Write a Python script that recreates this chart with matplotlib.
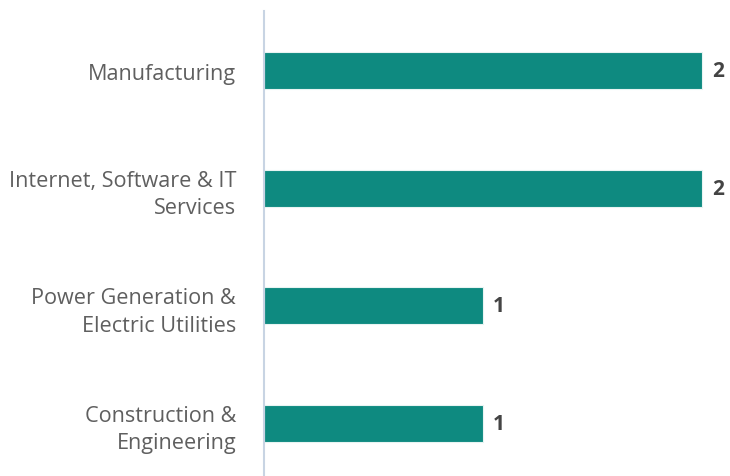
import matplotlib.pyplot as plt

categories = ['Manufacturing', 'Internet, Software & IT\nServices',
              'Power Generation &\nElectric Utilities', 'Construction &\nEngineering']
values = [2, 2, 1, 1]

plt.rcParams['font.family'] = ['Open Sans', 'DejaVu Sans']

fig = plt.figure(figsize=(7.3, 4.77), dpi=100)
ax = fig.add_axes([264 / 730, 0, 466 / 730, 465 / 477])

pos = list(range(len(categories)))
ax.barh(pos, values, height=0.315, color='#0e8a80', edgecolor='#e8f4f2', linewidth=0.8)

for p, v in zip(pos, values):
    ax.text(v + 0.045, p, str(v), va='center', ha='left', fontsize=15,
            fontweight='bold', color='#444444')

ax.set_xlim(0, 466 / 219)
ax.set_ylim(3 + 53 / 117.5, -60 / 117.5)
ax.set_yticks(pos)
ax.set_yticklabels(categories, fontsize=15.6, color='#5f5f5f', ha='right',
                   linespacing=1.4)
ax.tick_params(axis='y', length=0, pad=20)
ax.set_xticks([])

for s in ['top', 'right', 'bottom']:
    ax.spines[s].set_visible(False)
ax.spines['left'].set_color('#c8d4e3')
ax.spines['left'].set_linewidth(1.5)

fig.savefig('out.png', dpi=100)
